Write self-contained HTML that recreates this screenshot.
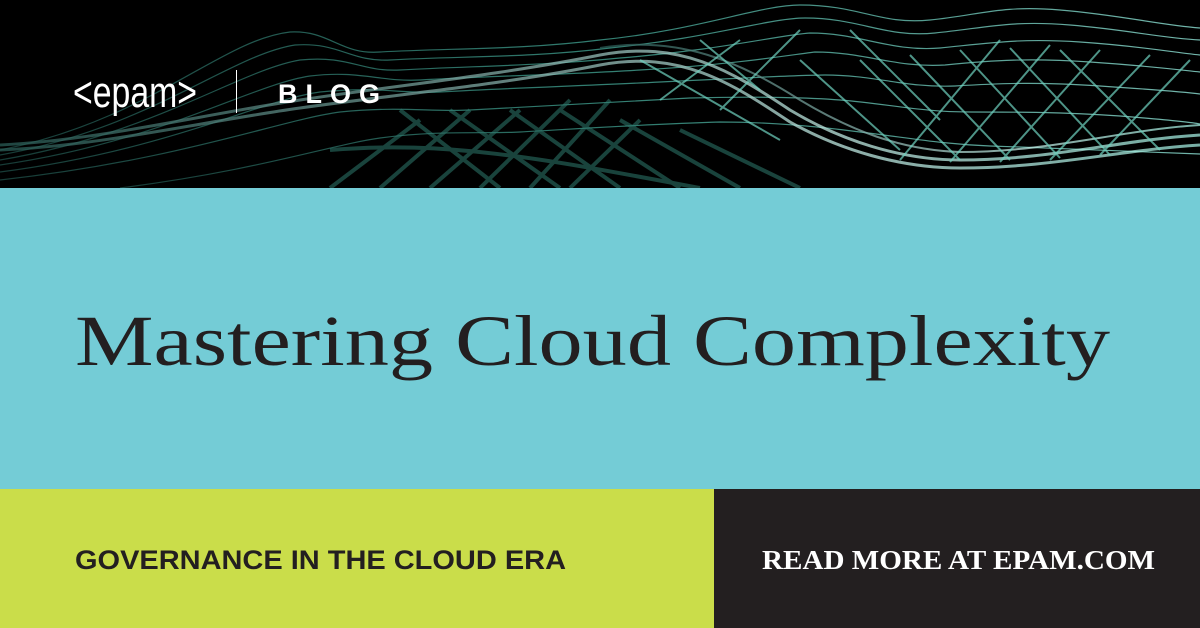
<!DOCTYPE html>
<html><head><meta charset="utf-8"><style>
html,body{margin:0;padding:0;background:#000}
svg{display:block}
</style></head><body>
<svg width="1200" height="628" viewBox="0 0 1200 628" xmlns="http://www.w3.org/2000/svg">
<defs>
<linearGradient id="g" x1="0" x2="1" y1="0" y2="0">
<stop offset="0" stop-color="#1d4a44"/>
<stop offset="0.5" stop-color="#3f9e8e"/>
<stop offset="1" stop-color="#8fe3d6"/>
</linearGradient>
<linearGradient id="g2" x1="0" x2="1" y1="0" y2="0">
<stop offset="0" stop-color="#2a5c56"/>
<stop offset="0.45" stop-color="#8ab2ad"/>
<stop offset="0.7" stop-color="#bfe9e2"/>
<stop offset="1" stop-color="#9fe9dc"/>
</linearGradient>
</defs>
<rect x="0" y="0" width="1200" height="188" fill="#000"/>
<g fill="none" stroke="url(#g)" stroke-width="1.2" opacity="0.8">
<path d="M0,150 C150,120 220,40 290,32 C330,30 340,55 380,52 C450,48 520,50 600,40 C700,30 760,5 800,5 C860,5 880,25 930,20 C980,15 1000,5 1060,10 C1120,15 1160,25 1200,28"/>
<path d="M0,155 C150,128 230,55 295,45 C340,42 350,62 390,60 C460,56 530,58 610,48 C710,38 770,18 805,18 C860,18 885,38 935,33 C985,28 1010,20 1070,25 C1130,30 1160,38 1200,40"/>
<path d="M0,160 C150,135 240,70 300,60 C350,55 360,72 400,70 C470,66 540,66 620,58 C720,50 780,35 810,33 C860,33 890,52 940,48 C990,43 1020,38 1080,42 C1140,46 1170,52 1200,55"/>
<path d="M0,165 C160,142 250,85 310,76 C360,70 380,82 420,80 C490,76 560,75 640,70 C730,65 790,55 815,52 C865,52 895,68 945,65 C995,60 1030,58 1090,62 C1150,66 1180,70 1200,72"/>
<path d="M0,172 C170,150 260,100 320,92 C380,86 400,94 440,92 C510,88 580,86 660,82 C740,78 800,75 825,75 C875,75 905,88 955,86 C1005,83 1040,82 1100,86 C1160,90 1185,92 1200,94"/>
<path d="M0,180 C180,160 280,120 340,112 C400,106 430,112 470,110 C540,106 610,102 690,98 C760,96 815,98 840,100 C890,104 920,112 970,112 C1020,112 1060,112 1120,116 C1170,120 1190,122 1200,124"/>
<path d="M120,188 C260,170 330,145 380,138 C440,130 480,134 520,132 C590,128 650,124 720,122 C780,122 830,128 860,132 C910,138 940,144 990,146 C1050,148 1100,150 1200,154"/>
</g>
<g fill="none" stroke="url(#g2)" stroke-width="3" opacity="0.75">
<path d="M0,145 C100,140 200,115 300,100 C400,85 500,75 600,55 C680,40 730,70 790,110 C840,140 900,160 960,160 C1050,160 1120,140 1200,135"/>
<path d="M0,150 C100,146 200,122 300,108 C400,94 500,85 600,65 C680,50 730,82 790,122 C840,150 900,168 960,168 C1050,168 1120,150 1200,145"/>
<path d="M600,48 C680,35 740,62 800,100 C850,130 900,150 960,152 C1050,152 1120,130 1200,125" stroke-width="2"/>
</g>
<g fill="none" stroke="#2f7a6e" stroke-width="4" opacity="0.55">
<path d="M380,188 L470,110"/><path d="M430,188 L520,110"/><path d="M480,188 L570,100"/><path d="M530,188 L610,100"/>
<path d="M330,188 L420,120"/><path d="M570,188 L640,120"/>
<path d="M400,110 L500,188"/><path d="M450,110 L560,188"/><path d="M510,110 L620,188"/><path d="M560,110 L680,188"/>
<path d="M620,120 L740,188"/><path d="M680,130 L800,188"/>
<path d="M330,150 C450,140 550,160 700,188"/>
</g>
<g fill="none" stroke="#6fd3c1" stroke-width="2" opacity="0.7">
<path d="M900,160 L1000,40"/><path d="M950,162 L1050,45"/><path d="M1000,162 L1100,50"/><path d="M1050,160 L1150,55"/><path d="M1100,155 L1190,60"/>
<path d="M860,60 L960,160"/><path d="M910,55 L1010,160"/><path d="M960,50 L1060,158"/><path d="M1010,48 L1110,155"/><path d="M1060,50 L1160,150"/>
<path d="M800,60 L900,150"/><path d="M850,30 L940,120"/>
<path d="M640,60 L780,140"/><path d="M700,40 L760,90"/><path d="M660,100 L740,40"/><path d="M720,110 L800,30"/>
</g>
<g font-family="Liberation Sans, sans-serif" fill="#fff">
<text x="73" y="107" font-size="44" textLength="124" lengthAdjust="spacingAndGlyphs">&lt;epam&gt;</text>
<text x="278" y="103" font-size="27" font-weight="bold" textLength="102" lengthAdjust="spacing">BLOG</text>
</g>
<rect x="236" y="70" width="1" height="43" fill="#fff"/>
<rect x="0" y="188" width="1200" height="301" fill="#74ccd6"/>
<text x="75" y="365" font-family="Liberation Serif, serif" font-size="72" fill="#231f20" textLength="1035" lengthAdjust="spacingAndGlyphs">Mastering Cloud Complexity</text>
<rect x="0" y="489" width="714" height="139" fill="#cadd4a"/>
<rect x="714" y="489" width="486" height="139" fill="#231f20"/>
<text x="75" y="569" font-family="Liberation Sans, sans-serif" font-weight="bold" font-size="27" fill="#231f20" textLength="491" lengthAdjust="spacingAndGlyphs">GOVERNANCE IN THE CLOUD ERA</text>
<text x="762" y="569" font-family="Liberation Serif, serif" font-weight="bold" font-size="27" fill="#fff" textLength="393" lengthAdjust="spacingAndGlyphs">READ MORE AT EPAM.COM</text>
</svg>
</body></html>
